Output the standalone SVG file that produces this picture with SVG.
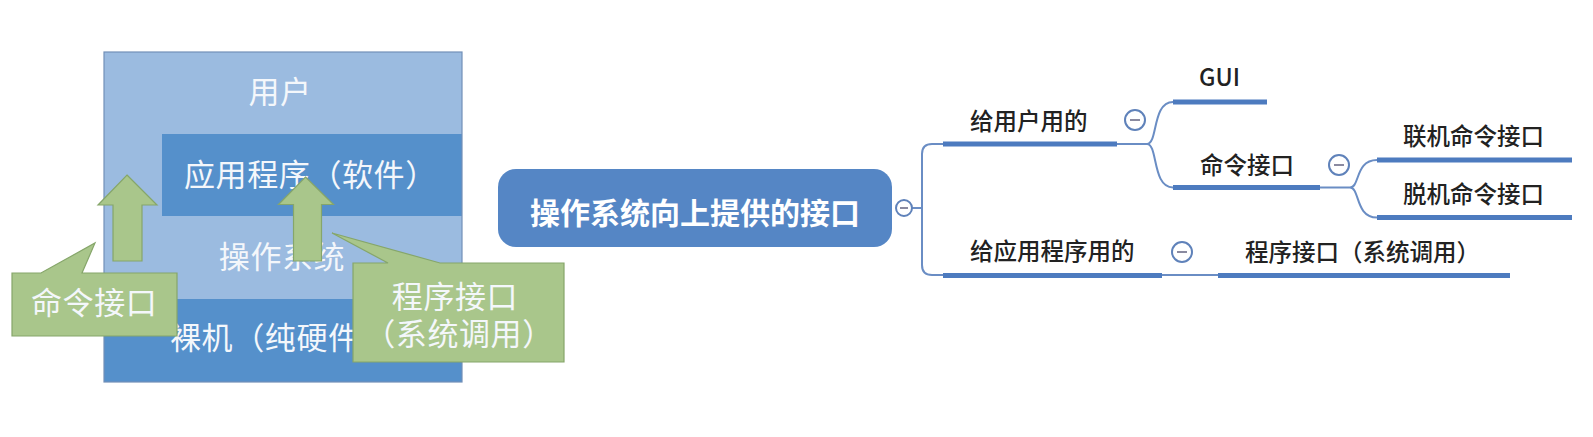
<svg xmlns="http://www.w3.org/2000/svg" width="1593" height="437" viewBox="0 0 1593 437">
<style>
.light{fill:#9bbbe0;}
.dark{fill:#5590cb;}
.ltxt{font-family:"Noto Sans CJK SC","Liberation Sans",sans-serif;font-size:31px;fill:#f4f7fb;letter-spacing:0.6px;}
.green{fill:#a9c68b;stroke:#86a66a;stroke-width:1.2;}
.mtxt{font-family:"Noto Sans CJK SC","Liberation Sans",sans-serif;font-size:23.5px;font-weight:500;fill:#222222;}
.bar{stroke:#4d7bbf;stroke-width:5;fill:none;}
.thin{stroke:#6a8dc4;stroke-width:2;fill:none;}
.tog circle{fill:#fff;stroke:#5f82ba;stroke-width:2;}
.tog line{stroke:#8a8aa0;stroke-width:2;}
</style>
<defs>
<clipPath id="clipBare"><rect x="104" y="299" width="249" height="83"/></clipPath>
</defs>
<rect width="1593" height="437" fill="#ffffff"/>

<g id="layers">
<rect x="104" y="52" width="358" height="330" class="light"/>
<rect x="162" y="134" width="300" height="82" class="dark"/>
<rect x="104" y="216" width="358" height="83" class="light"/>
<rect x="104" y="299" width="358" height="83" class="dark"/>
<rect x="104" y="52" width="358" height="330" fill="none" stroke="#7290b8" stroke-width="1.2"/>
<text class="ltxt" x="280" y="103" text-anchor="middle">用户</text>
<text class="ltxt" x="184" y="186">应用程序（软件）</text>
<text class="ltxt" x="282" y="268" text-anchor="middle">操作系统</text>
<text class="ltxt" x="170" y="349" clip-path="url(#clipBare)">裸机（纯硬件）</text>
</g>

<g id="arrow-cmd">
<polygon class="green" points="127,175 157,205 142,205 142,261 113,261 113,205 98,205"/>
</g>
<g id="arrow-prog">
<polygon class="green" points="305.5,177 333.5,204.5 321.5,204.5 321.5,261 293.5,261 293.5,204.5 278.5,204.5"/>
</g>

<g id="callout-cmd">
<path class="green" d="M12,273 H41 L95,243 L82,273 H177 V336 H12 Z"/>
<text class="ltxt" x="31" y="314">命令接口</text>
</g>
<g id="callout-prog">
<path class="green" d="M353,263 H388 L332,233 L440,263 H564 V362 H353 Z"/>
<text class="ltxt" x="455" y="308" text-anchor="middle">程序接口</text>
<text class="ltxt" x="459" y="345" text-anchor="middle">（系统调用）</text>
</g>

<g id="connectors">
<path class="thin" d="M912,208 H922 M943,144 H932 Q922,144 922,154 V265 Q922,275 932,275 H943"/>
<path class="thin" d="M1117,144 H1147 M1147,144 C1158,144 1152,102 1173,102 M1147,144 C1158,144 1152,187.5 1173,187.5"/>
<path class="thin" d="M1320,187.5 H1350 M1350,187.5 C1360,187.5 1355,160 1377,160 M1350,187.5 C1360,187.5 1355,217.5 1377,217.5"/>
<path class="thin" d="M1162,275 H1218"/>
</g>

<g id="root">
<rect x="498" y="169" width="394" height="78" rx="18" fill="#5586c5"/>
<text x="695" y="224" text-anchor="middle" font-family="'Noto Sans CJK SC','Liberation Sans',sans-serif" font-size="30" font-weight="bold" fill="#ffffff">操作系统向上提供的接口</text>
<g class="tog"><circle cx="904" cy="208" r="8"/><line x1="900" y1="208" x2="908" y2="208"/></g>
</g>

<g id="node-user">
<line class="bar" x1="943" y1="144" x2="1117" y2="144"/>
<text class="mtxt" x="970" y="130">给用户用的</text>
<g class="tog"><circle cx="1135" cy="120" r="10"/><line x1="1130" y1="120" x2="1140" y2="120"/></g>
</g>

<g id="node-gui">
<line class="bar" x1="1173" y1="102" x2="1267" y2="102"/>
<text class="mtxt" x="1199" y="86" font-family="'Liberation Sans',sans-serif" font-size="22">GUI</text>
</g>

<g id="node-cmd">
<line class="bar" x1="1173" y1="187.5" x2="1320" y2="187.5"/>
<text class="mtxt" x="1200" y="174">命令接口</text>
<g class="tog"><circle cx="1339" cy="165" r="10"/><line x1="1334" y1="165" x2="1344" y2="165"/></g>
</g>

<g id="node-online">
<line class="bar" x1="1377" y1="160" x2="1572" y2="160"/>
<text class="mtxt" x="1403" y="145">联机命令接口</text>
</g>

<g id="node-offline">
<line class="bar" x1="1377" y1="217.5" x2="1572" y2="217.5"/>
<text class="mtxt" x="1403" y="203">脱机命令接口</text>
</g>

<g id="node-app">
<line class="bar" x1="943" y1="275.5" x2="1162" y2="275.5"/>
<text class="mtxt" x="970" y="260">给应用程序用的</text>
<g class="tog"><circle cx="1182" cy="252" r="10"/><line x1="1177" y1="252" x2="1187" y2="252"/></g>
</g>

<g id="node-syscall">
<line class="bar" x1="1218" y1="275.5" x2="1510" y2="275.5"/>
<text class="mtxt" x="1245" y="261">程序接口（系统调用）</text>
</g>
</svg>
